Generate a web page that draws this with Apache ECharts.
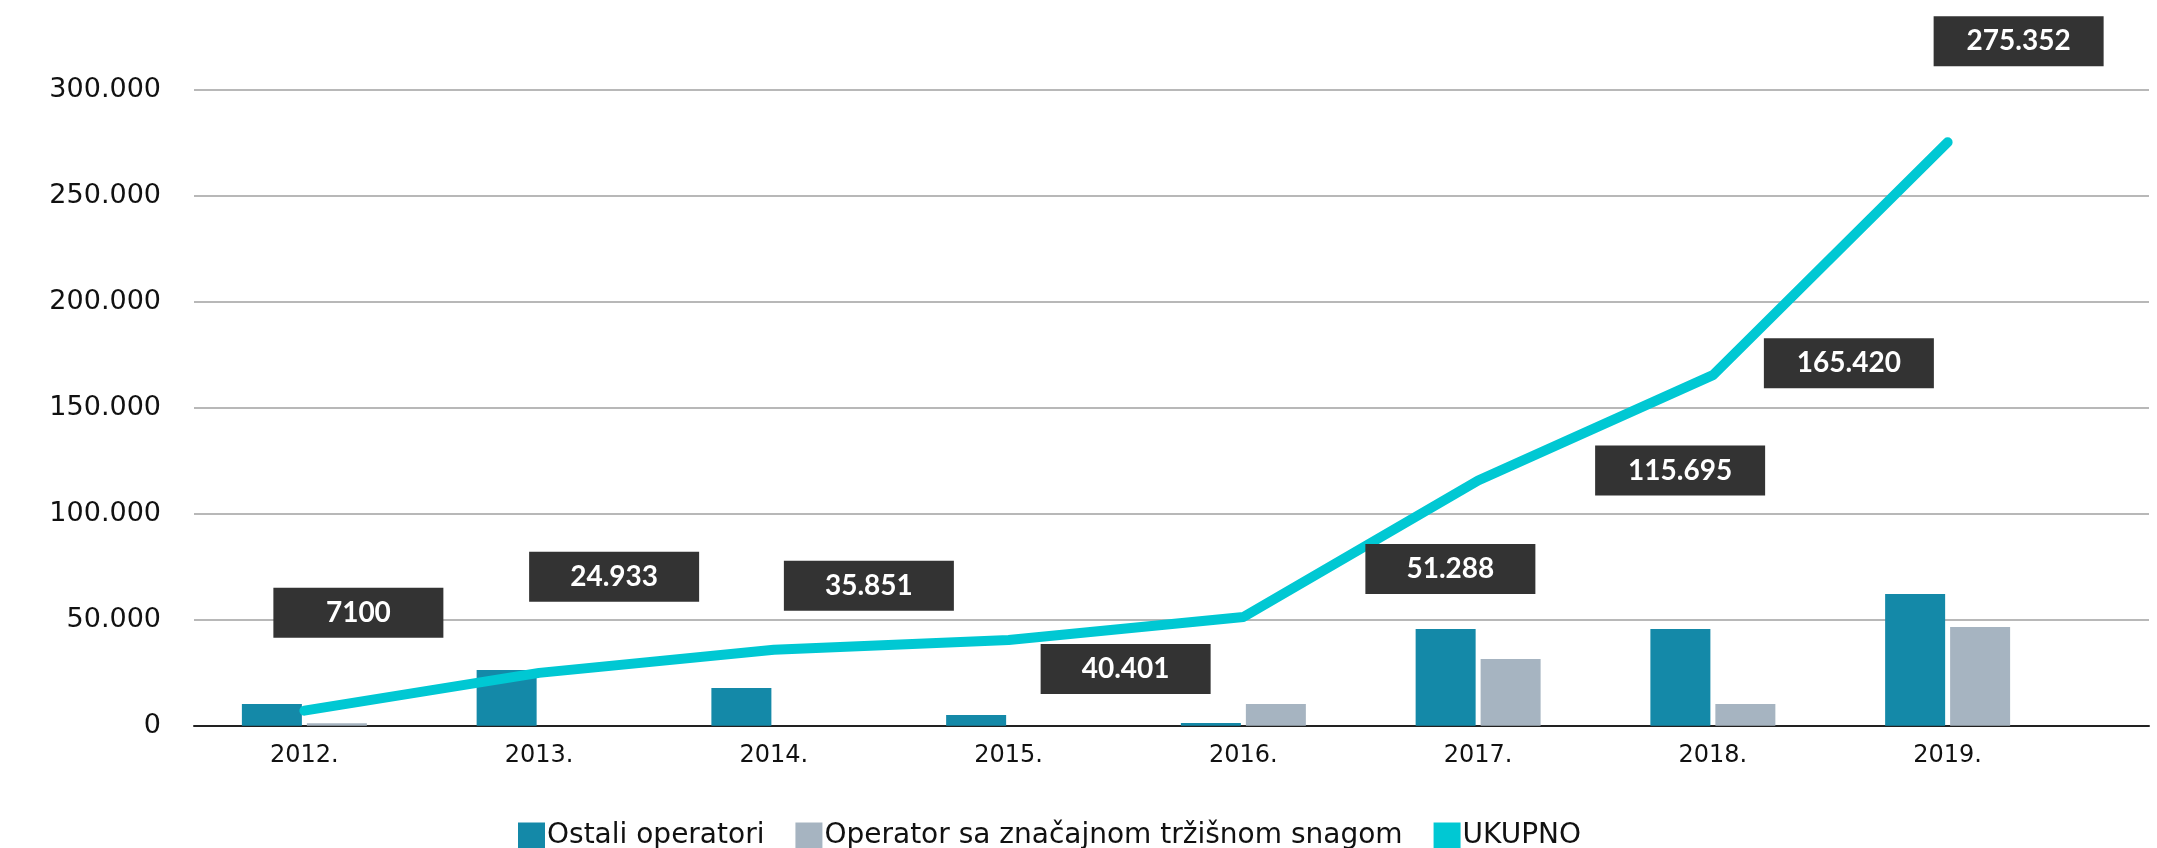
<!DOCTYPE html>
<html>
<head>
<meta charset="utf-8">
<script src="https://cdn.jsdelivr.net/npm/echarts@6/dist/echarts.min.js"></script>
<style>
  html, body { margin: 0; padding: 0; background: #ffffff; }
  #chart { width: 2157px; height: 848px; }
</style>
</head>
<body>
<div id="chart"></div>
<script>
// Years on the category axis
const years = ['2012.', '2013.', '2014.', '2015.', '2016.', '2017.', '2018.', '2019.'];
// Other operators
const ostaliOperatori = [10200, 26300, 17800, 5000, 1300, 45600, 45600, 62200];
// Operator with significant market power
const operatorSmp = [1200, 0, 0, 0, 10200, 31500, 10200, 46600];
// Total
const ukupno = [7100, 24933, 35851, 40401, 51288, 115695, 165420, 275352];

const seriesNames = ['Ostali operatori', 'Operator sa značajnom tržišnom snagom', 'UKUPNO'];

// Label box placement relative to each point of the total line (px)
const labelOffsets = [[54, -98], [75, -96], [95, -64], [117, 29], [207, -48], [202, -10], [136, -12], [71, -101]];

function fmt(n) {
  if (n < 10000) return String(n);
  return String(n).replace(/\B(?=(\d{3})+(?!\d))/g, '.');
}

const axisFont = 'DejaVu Sans';
const chart = echarts.init(document.getElementById('chart'), null, { renderer: 'canvas' });

chart.setOption({
  animation: false,
  backgroundColor: '#ffffff',
  legend: {
    left: 513,
    top: 817,
    icon: 'rect',
    itemWidth: 27,
    itemHeight: 27,
    itemGap: 31,
    textStyle: { fontFamily: axisFont, fontSize: 28, color: '#111111', padding: [0, 0, 0, -3] },
    data: [
      { name: seriesNames[0] },
      { name: seriesNames[1], textStyle: { padding: [0, 20, 0, -3] } },
      { name: seriesNames[2] }
    ]
  },
  grid: [
    { left: 194, right: 8, top: 90, bottom: 122.3, containLabel: false },
    { left: 187, right: 92, top: 90, bottom: 122.3, containLabel: false }
  ],
  xAxis: [
    {
      gridIndex: 0, type: 'category', data: years,
      axisLine: { show: true, lineStyle: { color: '#222222', width: 2 } },
      axisTick: { show: false }, axisLabel: { show: false }, splitLine: { show: false }
    },
    {
      gridIndex: 1, type: 'category', data: years,
      axisLine: { show: false }, axisTick: { show: false },
      axisLabel: { fontFamily: axisFont, fontSize: 24, color: '#111111', margin: 18 }
    }
  ],
  yAxis: [
    {
      gridIndex: 0, type: 'value', min: 0, max: 300000, interval: 50000,
      axisLine: { show: false }, axisTick: { show: false },
      axisLabel: { fontFamily: axisFont, fontSize: 27, color: '#111111', margin: 33, formatter: fmt },
      splitLine: { lineStyle: { color: '#a0a0a0', width: 1.5 } }
    },
    {
      gridIndex: 1, type: 'value', min: 0, max: 300000, interval: 50000,
      axisLine: { show: false }, axisTick: { show: false },
      axisLabel: { show: false }, splitLine: { show: false }
    }
  ],
  series: [
    {
      name: seriesNames[0], type: 'bar', xAxisIndex: 1, yAxisIndex: 1,
      data: ostaliOperatori, barWidth: 60, barGap: '8.3%',
      itemStyle: { color: '#1489a8' }, silent: true
    },
    {
      name: seriesNames[1], type: 'bar', xAxisIndex: 1, yAxisIndex: 1,
      data: operatorSmp, barWidth: 60, barGap: '8.3%',
      itemStyle: { color: '#a6b4c1' }, silent: true
    },
    {
      name: seriesNames[2], type: 'line', xAxisIndex: 1, yAxisIndex: 1,
      data: ukupno.map((v, i) => ({ value: v, label: { offset: labelOffsets[i] } })),
      symbol: 'circle', symbolSize: 2, showSymbol: true,
      itemStyle: { color: '#00c8d3' },
      lineStyle: { color: '#00c8d3', width: 10, cap: 'round', join: 'round' },
      z: 5, silent: true,
      label: {
        show: true,
        position: 'inside',
        align: 'center',
        verticalAlign: 'middle',
        width: 170,
        height: 50,
        lineHeight: 50,
        backgroundColor: '#333333',
        color: '#ffffff',
        fontFamily: 'Lato',
        fontWeight: 'bold',
        fontSize: 28,
        formatter: p => fmt(p.value)
      }
    }
  ]
});
</script>
</body>
</html>
